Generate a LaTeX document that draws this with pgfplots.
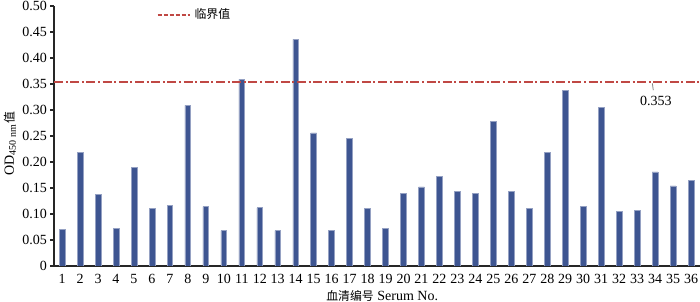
\documentclass[border=0pt]{standalone}
\usepackage{pgfplots}
\pgfplotsset{compat=1.18}
\usepackage{fontspec}
\setmainfont{Liberation Serif}
\newfontfamily\cjk[Scale=0.85]{Noto Sans CJK SC}
\definecolor{barcol}{RGB}{62,85,145}
\definecolor{thrcol}{RGB}{192,72,68}
\begin{document}
\begin{tikzpicture}
\begin{axis}[
  name=ax,
  scale only axis,
  width=323pt, height=130pt,
  xmin=0.55, xmax=36.5,
  ymin=0, ymax=0.5,
  axis x line*=bottom, axis y line*=left,
  axis line style={line width=0.8pt, black!85},
  xtick={1,...,36},
  x tick style={draw=none},
  ytick={0,0.05,0.10,0.15,0.20,0.25,0.30,0.35,0.40,0.45,0.50},
  yticklabels={0,0.05,0.10,0.15,0.20,0.25,0.30,0.35,0.40,0.45,0.50},
  xticklabels={1,2,3,4,5,6,7,8,9,10,11,12,13,14,15,16,17,18,19,20,21,22,23,24,25,26,27,28,29,30,31,32,33,34,35,36},
  tick align=outside,
  major tick length=2pt,
  y tick style={line width=0.6pt, black!85},
  font=\rmfamily\fontsize{7}{8.2}\selectfont,
  tick label style={font=\rmfamily\fontsize{7}{8.2}\selectfont},
  xticklabel style={yshift=1.2pt},
  yticklabel style={xshift=2pt},
  xlabel={{\cjk 血清编号} Serum No.},
  xlabel style={at={(rel axis cs:0.508,0)}, anchor=center, yshift=-14.8pt},
  ylabel={OD\textsubscript{450 nm}{\cjk 值}},
  ylabel style={at={(rel axis cs:0,0.47)}, anchor=center, yshift=22pt},
  legend style={at={(rel axis cs:0.155,0.965)}, anchor=west, draw=none, fill=none,
    font=\rmfamily\fontsize{7}{8.2}\selectfont, inner sep=1pt},
  legend cell align=left,
]
\addplot[ybar, bar width=0.32, fill=barcol, draw=barcol!55!white, line width=0.3pt, forget plot]
coordinates {
(1,0.070) (2,0.219) (3,0.137) (4,0.073) (5,0.189) (6,0.110)
(7,0.117) (8,0.309) (9,0.114) (10,0.068) (11,0.359) (12,0.112)
(13,0.068) (14,0.436) (15,0.256) (16,0.068) (17,0.245) (18,0.110)
(19,0.073) (20,0.140) (21,0.152) (22,0.172) (23,0.144) (24,0.140)
(25,0.278) (26,0.144) (27,0.110) (28,0.219) (29,0.337) (30,0.114)
(31,0.305) (32,0.105) (33,0.107) (34,0.181) (35,0.154) (36,0.164)
};
\addplot[thrcol, line width=1pt, dash pattern=on 4.5pt off 1.3pt on 1pt off 1.3pt,
  legend image code/.code={\draw[thrcol, line width=1pt, dash pattern=on 2pt off 1pt] (0pt,0pt) -- (16pt,0pt);}]
coordinates {(0.55,0.353) (36.5,0.353)};
\addlegendentry{{\cjk 临界值}}
\draw[gray, line width=0.4pt] (axis cs:33.85,0.351) -- (axis cs:33.9,0.338);
\node[font=\rmfamily\fontsize{7}{8.2}\selectfont] at (axis cs:34.05,0.317) {0.353};
\end{axis}
\pgfresetboundingbox
\path ([shift={(-27pt,-18pt)}]ax.south west) rectangle ([shift={(0pt,3pt)}]ax.north east);
\end{tikzpicture}
\end{document}
